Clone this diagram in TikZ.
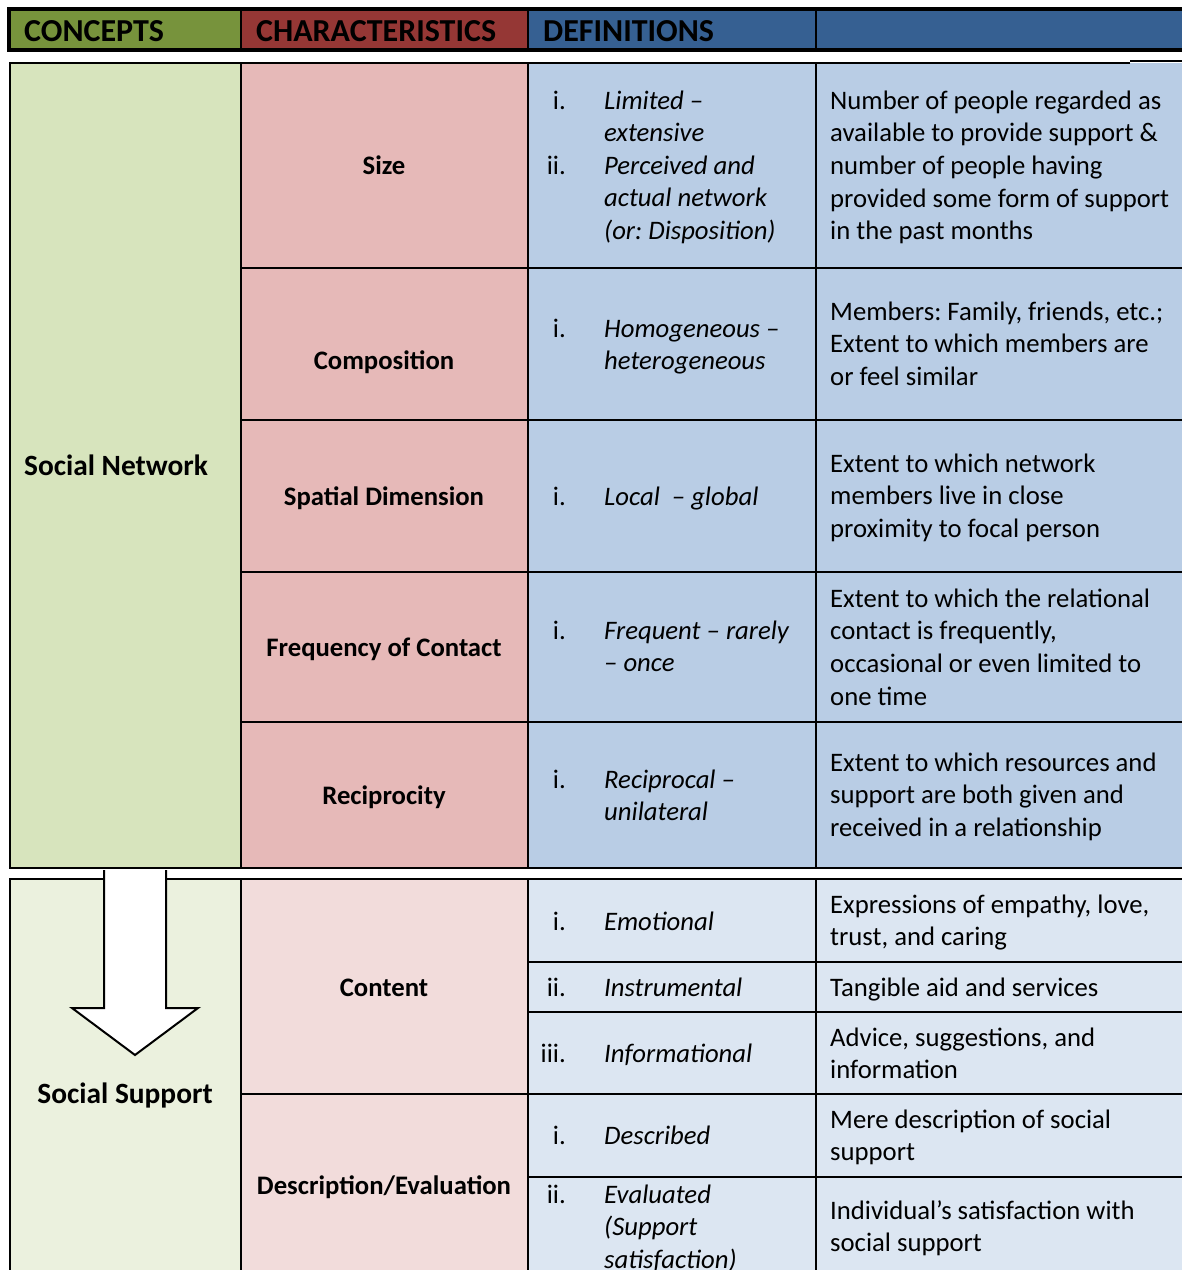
\documentclass[tikz,border=0pt]{standalone}
\usepackage{fontspec}
\setmainfont{Carlito}
\frenchspacing
\definecolor{hgreen}{RGB}{119,147,60}
\definecolor{hred}{RGB}{149,55,53}
\definecolor{hblue}{RGB}{54,96,146}
\definecolor{agreen}{RGB}{215,228,189}
\definecolor{apink}{RGB}{230,185,184}
\definecolor{ablue}{RGB}{185,205,229}
\definecolor{bgreen}{RGB}{235,241,222}
\definecolor{bpink}{RGB}{242,220,219}
\definecolor{bblue}{RGB}{220,230,242}
\newcommand\txtlines[5]{% name, x, first baseline, style, lines
  \foreach \t [count=\i from 1] in {#5}
    \node[#4] (#1-\i) at (#2,#3+32.7*\i-32.7) {\t};}
\begin{document}
\begin{tikzpicture}[x=1pt,y=-1pt,
  hdr/.style={anchor=base west,inner sep=0pt,font=\fontsize{32}{38}\selectfont\bfseries},
  cpt/.style={anchor=base,inner sep=0pt,font=\fontsize{29.4}{34}\selectfont\bfseries},
  lbl/.style={anchor=base,inner sep=0pt,font=\fontsize{26.7}{32.7}\selectfont\bfseries},
  num/.style={anchor=base east,inner sep=0pt,font=\fontsize{26.7}{32.7}\selectfont},
  itm/.style={anchor=base west,inner sep=0pt,font=\fontsize{26.7}{32.7}\selectfont\itshape},
  dfn/.style={anchor=base west,inner sep=0pt,font=\fontsize{26.7}{32.7}\selectfont},
  rule/.style={line width=2pt},
  frame/.style={line width=2.6pt}]
\useasboundingbox (0,0) rectangle (1182,1270);
\clip (0,0) rectangle (1182,1270);
\fill[white] (0,0) rectangle (1182,1270);

% header bar
\fill[hgreen] (9,9) rectangle (241,50);
\fill[hred] (241,9) rectangle (528,50);
\fill[hblue] (528,9) rectangle (1190,50);
\draw[line width=3.5pt] (9,9) rectangle (1195,50);
\foreach \x in {241,528,816} \draw[frame] (\x,9) -- (\x,50);
\node[hdr] (hc) at (24,41) {CONCEPTS};
\node[hdr] (hch) at (256,41) {CHARACTERISTICS};
\node[hdr] (hd) at (543,41) {DEFINITIONS};

% social network block
\fill[agreen] (10,63) rectangle (241,868);
\fill[apink] (241,63) rectangle (528,868);
\fill[ablue] (528,63) rectangle (1190,868);
\draw[frame] (1130,63) -- (10,63) -- (10,868) -- (1195,868);
\draw[line width=1.4pt] (1130,61) -- (1190,61);
\foreach \x in {241,528,816} \draw[frame] (\x,63) -- (\x,868);
\foreach \y in {268,420,572,722} \draw[rule] (241,\y) -- (1190,\y);

% social support block
\fill[bgreen] (10,879) rectangle (241,1300);
\fill[bpink] (241,879) rectangle (528,1300);
\fill[bblue] (528,879) rectangle (1190,1300);
\draw[frame] (10,1300) -- (10,879) -- (1195,879);
\foreach \x in {241,528,816} \draw[frame] (\x,879) -- (\x,1300);
\draw[rule] (241,1094) -- (1190,1094);
\foreach \y in {962,1012,1177} \draw[rule] (528,\y) -- (1190,\y);

% block arrow between the two concepts
\fill[white] (104,870) -- (166,870) -- (166,1008) -- (198,1008) -- (135,1055)
  -- (72,1008) -- (104,1008) -- cycle;
\draw[line width=2pt,line join=miter] (104,870) -- (104,1008) -- (72,1008) -- (135,1055)
  -- (198,1008) -- (166,1008) -- (166,870);

% concepts
\node[cpt] (sn) at (116,475) {Social Network};
\node[cpt] (ss) at (125,1103) {Social Support};

% characteristics
\node[lbl] (c1) at (384,174) {Size};
\node[lbl] (c2) at (384,369) {Composition};
\node[lbl] (c3) at (384,505) {Spatial Dimension};
\node[lbl] (c4) at (384,656) {Frequency of Contact};
\node[lbl] (c5) at (384,804) {Reciprocity};
\node[lbl] (c6) at (384,996) {Content};
\node[lbl] (c7) at (384,1194) {Description/Evaluation};

% definitions: numerals and italic terms
\node[num] (n1a) at (566,109) {i.};
\txtlines{t1a}{604}{109}{itm}{{Limited –},{extensive}}
\node[num] (n1b) at (566,174) {ii.};
\txtlines{t1b}{604}{174}{itm}{{Perceived and},{actual network},{(or: Disposition)}}
\node[num] (n2) at (566,337) {i.};
\txtlines{t2}{604}{337}{itm}{{Homogeneous –},{heterogeneous}}
\node[num] (n3) at (566,505) {i.};
\txtlines{t3}{604}{505}{itm}{{Local \ – global}}
\node[num] (n4) at (566,639) {i.};
\txtlines{t4}{604}{639}{itm}{{Frequent – rarely},{– once}}
\node[num] (n5) at (566,788) {i.};
\txtlines{t5}{604}{788}{itm}{{Reciprocal –},{unilateral}}
\node[num] (n6) at (566,930) {i.};
\txtlines{t6}{604}{930}{itm}{{Emotional}}
\node[num] (n7) at (566,996) {ii.};
\txtlines{t7}{604}{996}{itm}{{Instrumental}}
\node[num] (n8) at (566,1062) {iii.};
\txtlines{t8}{604}{1062}{itm}{{Informational}}
\node[num] (n9) at (566,1144) {i.};
\txtlines{t9}{604}{1144}{itm}{{Described}}
\node[num] (n10) at (566,1203) {ii.};
\txtlines{t10}{604}{1203}{itm}{{Evaluated},{(Support},{satisfaction)}}

% definitions: descriptions
\txtlines{d1}{830}{109}{dfn}{{Number of people regarded as},{available to provide support \&},{number of people having},{provided some form of support},{in the past months}}
\txtlines{d2}{830}{320}{dfn}{{Members: Family, friends, etc.;},{Extent to which members are},{or feel similar}}
\txtlines{d3}{830}{472}{dfn}{{Extent to which network},{members live in close},{proximity to focal person}}
\txtlines{d4}{830}{607}{dfn}{{Extent to which the relational},{contact is frequently,},{occasional or even limited to},{one time}}
\txtlines{d5}{830}{771}{dfn}{{Extent to which resources and},{support are both given and},{received in a relationship}}
\txtlines{d6}{830}{913}{dfn}{{Expressions of empathy, love,},{trust, and caring}}
\txtlines{d7}{830}{996}{dfn}{{Tangible aid and services}}
\txtlines{d8}{830}{1046}{dfn}{{Advice, suggestions, and},{information}}
\txtlines{d9}{830}{1128}{dfn}{{Mere description of social},{support}}
\txtlines{d10}{830}{1219}{dfn}{{Individual’s satisfaction with},{social support}}
\end{tikzpicture}
\end{document}
